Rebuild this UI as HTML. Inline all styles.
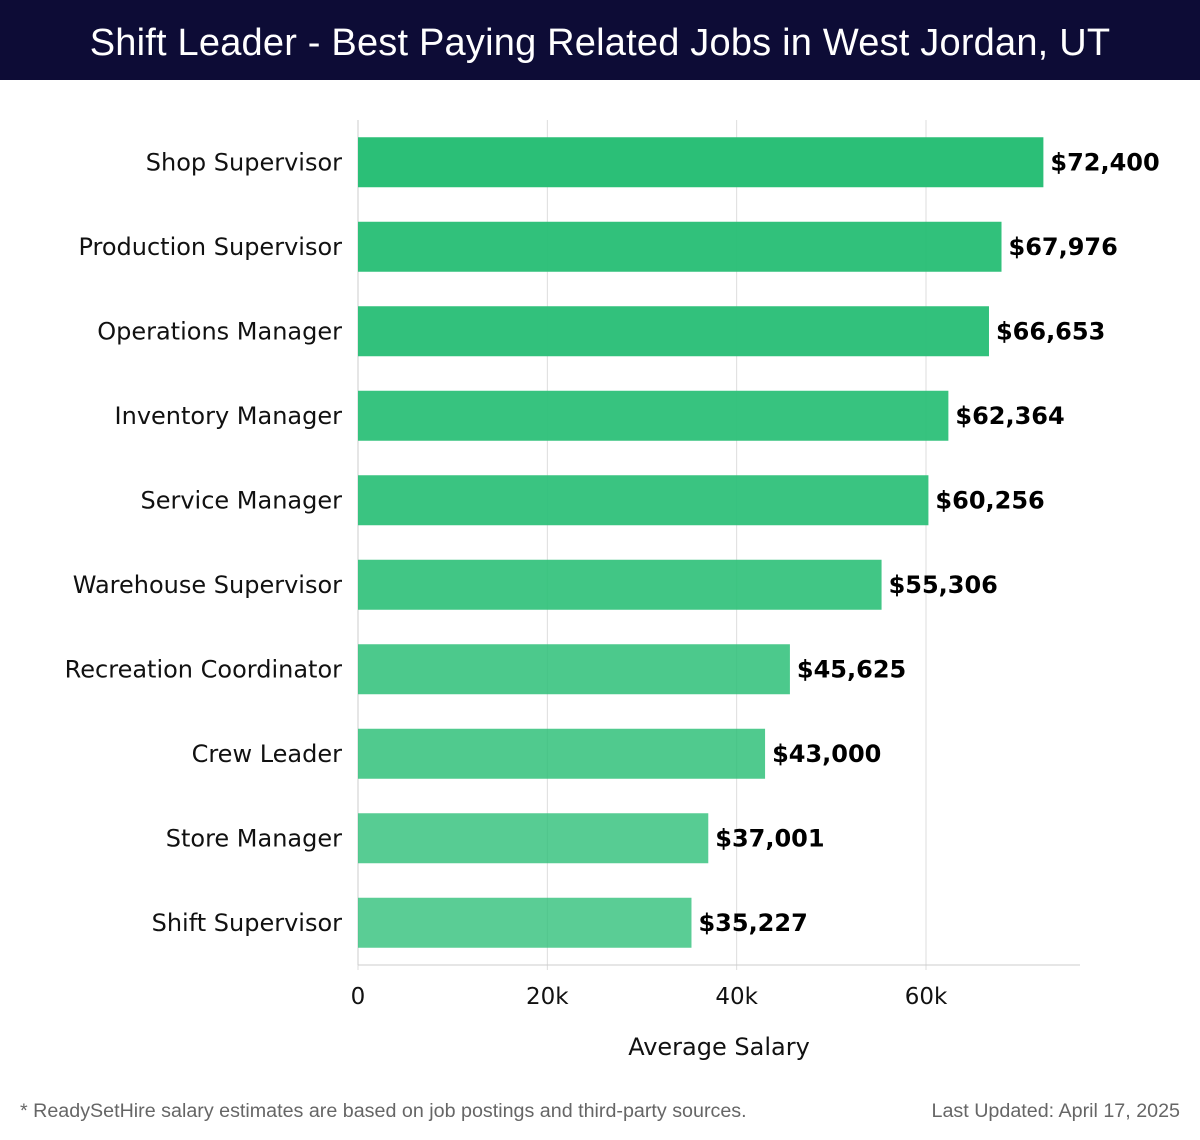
<!DOCTYPE html>
<html><head><meta charset="utf-8">
<style>
html,body{margin:0;padding:0;background:#fff;width:1200px;height:1140px;overflow:hidden}
#hdr{position:absolute;left:0;top:0;width:1200px;height:80px;background:#0d0c36;color:#fff;font-family:"Liberation Sans",sans-serif;font-size:38px;text-align:center;line-height:86px;letter-spacing:0.2px}
.foot{position:absolute;top:1100px;font-family:"Liberation Sans",sans-serif;font-size:19.7px;color:#666}
</style></head><body>
<div id="hdr">Shift Leader - Best Paying Related Jobs in West Jordan, UT</div>
<svg id="chart" width="1200" height="1140" style="position:absolute;left:0;top:0;pointer-events:none"></svg>
<div class="foot" style="left:20px">* ReadySetHire salary estimates are based on job postings and third-party sources.</div>
<div class="foot" style="right:20px">Last Updated: April 17, 2025</div>
<script>
const categories = ["Shop Supervisor","Production Supervisor","Operations Manager","Inventory Manager","Service Manager","Warehouse Supervisor","Recreation Coordinator","Crew Leader","Store Manager","Shift Supervisor"];
const salaries = [72400,67976,66653,62364,60256,55306,45625,43000,37001,35227];
const valueLabels = ["$72,400","$67,976","$66,653","$62,364","$60,256","$55,306","$45,625","$43,000","$37,001","$35,227"];
const tickValues = [0,20000,40000,60000];
const tickLabels = ["0","20k","40k","60k"];

const NS="http://www.w3.org/2000/svg";
const svg=document.getElementById('chart');
const x0=358, pxPer=(926-358)/60000, top0=120, band=84.5, barH=50, axisY=965, axisEnd=1080;
const xs=v=>x0+v*pxPer;
const yc=i=>top0+band*i+band/2;
function mk(t,a){const e=document.createElementNS(NS,t);for(const k in a)e.setAttribute(k,a[k]);svg.appendChild(e);return e;}
const font='DejaVu Sans, sans-serif';
tickValues.forEach((v,i)=>{
  const g=mk('line',{x1:xs(v),x2:xs(v),y1:top0,y2:axisY+5,stroke:'#dddddd','stroke-width':1});
  
  
  const t=mk('text',{x:xs(v),y:1004,'text-anchor':'middle','font-family':font,'font-size':23,fill:'#111'});
  t.textContent=tickLabels[i];
  
  
});
const ax=mk('line',{x1:x0,x2:axisEnd,y1:axisY,y2:axisY,stroke:'#cccccc','stroke-width':1});


const yl=mk('line',{x1:x0,x2:x0,y1:top0,y2:axisY,stroke:'#cccccc','stroke-width':1});


const mx=Math.max(...salaries), mn=Math.min(...salaries);
categories.forEach((c,i)=>{
  const v=salaries[i], y=yc(i);
  const a=0.78+0.22*(v-mn)/(mx-mn);
  const b=mk('rect',{x:x0,y:y-barH/2,width:xs(v)-x0,height:barH,fill:'#2bbf77','fill-opacity':a});
  
  
  const l=mk('text',{x:342,y:y+8,'text-anchor':'end','font-family':font,'font-size':24,fill:'#111'});
  l.textContent=c;
  
  
  const vl=mk('text',{x:xs(v)+7,y:y+8,'font-family':font,'font-size':24,'font-weight':'bold',fill:'#000'});
  vl.textContent=valueLabels[i];
  
  
});
const xt=mk('text',{x:719,y:1055,'text-anchor':'middle','font-family':font,'font-size':24,fill:'#111'});
xt.textContent='Average Salary';


</script>
</body></html>
